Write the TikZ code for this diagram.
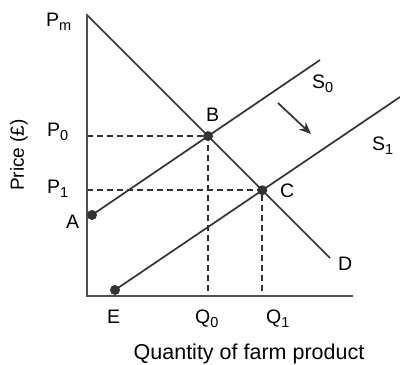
\documentclass[tikz,border=0pt]{standalone}
\usepackage{fontspec}
\setmainfont{Liberation Sans}
\usetikzlibrary{arrows.meta,intersections}
\definecolor{axisgray}{HTML}{505050}
\definecolor{linegray}{HTML}{333333}
\newcommand\lsub[1]{\raisebox{-4.5pt}{\fontsize{14.5}{14.5}\selectfont #1}}
\begin{document}
\begin{tikzpicture}[x=1pt,y=-1pt,
  axis/.style={draw=axisgray,line width=2.2pt},
  curve/.style={draw=linegray,line width=1.7pt},
  guide/.style={draw=linegray,line width=2pt,dash pattern=on 6pt off 4pt},
  dot/.style={circle,fill=linegray,inner sep=0pt,minimum size=10pt},
  lbl/.style={font=\fontsize{19.5}{22}\selectfont,inner sep=0pt,anchor=base west},
  title/.style={font=\fontsize{21.5}{24}\selectfont,inner sep=0pt}]
\useasboundingbox (0,0) rectangle (400,365);
\coordinate (O) at (87,296);
\coordinate (Ytop) at (87,14);
\coordinate (Xend) at (353,296);
\coordinate (Dtop) at (87,15);
\coordinate (Dend) at (330,258);
\coordinate (A) at (92,215);
\coordinate (S0end) at (320,60);
\coordinate (E) at (115,290);
\coordinate (S1end) at (400,97);
\coordinate (ArS) at (278,103);
\coordinate (ArE) at (311,134);
\draw[curve,name path=dem] (Dtop) -- (Dend);
\draw[curve,name path=s0] (A) -- (S0end);
\draw[curve,name path=s1] (E) -- (S1end);
\path[name intersections={of=dem and s0,by=B}];
\path[name intersections={of=dem and s1,by=C}];
\draw[guide] (B -| O) -- (B) -- (B |- O);
\draw[guide] (C -| O) -- (C) -- (C |- O);
\draw[axis] (Ytop) -- (O) -- (Xend);
\node[dot] (Bd) at (B) {};
\node[dot] (Cd) at (C) {};
\node[dot] (Ad) at (A) {};
\node[dot] (Ed) at (E) {};
\draw[curve,-{Stealth[length=12pt,width=10pt]}] (ArS) -- (ArE);
\node[lbl] (Pm) at (46,26) {P\lsub{m}};
\node[lbl] (P0) at (47,136) {P\lsub{0}};
\node[lbl] (P1) at (47,193) {P\lsub{1}};
\node[lbl] (Al) at (66,228) {A};
\node[lbl] (El) at (107,323) {E};
\node[lbl] (Q0) at (195,323) {Q\lsub{0}};
\node[lbl] (Q1) at (266,323) {Q\lsub{1}};
\node[lbl] (Bl) at (206,121) {B};
\node[lbl] (Cl) at (280,197) {C};
\node[lbl] (S0) at (312,88) {S\lsub{0}};
\node[lbl] (S1) at (372,150) {S\lsub{1}};
\node[lbl] (Dl) at (338,270) {D};
\node[title,rotate=90,font=\fontsize{19}{22}\selectfont] (ylab) at (19,155) {Price (£)};
\node[title,anchor=base] (xlab) at (249,359) {Quantity of farm product};
\end{tikzpicture}
\end{document}
